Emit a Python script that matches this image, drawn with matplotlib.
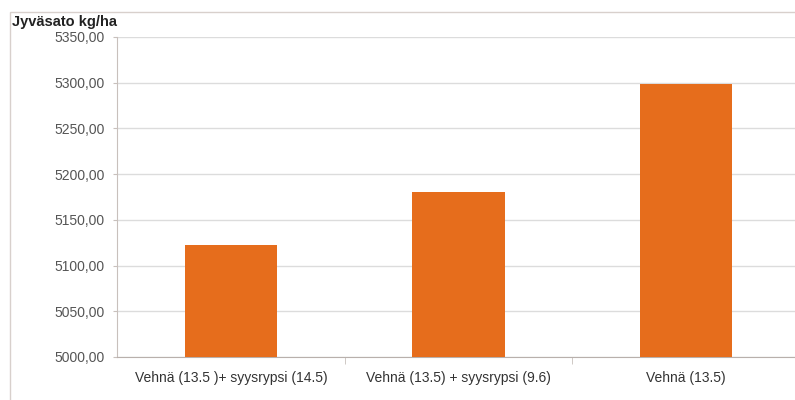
import matplotlib.pyplot as plt
from matplotlib.patches import Rectangle
from matplotlib.ticker import FuncFormatter, FixedLocator

categories = ["Vehnä (13.5 )+ syysrypsi (14.5)",
              "Vehnä (13.5) + syysrypsi (9.6)",
              "Vehnä (13.5)"]
yields = [5122, 5180, 5299]
y_ticks = [5000, 5050, 5100, 5150, 5200, 5250, 5300, 5350]

plt.rcParams['font.family'] = ['Liberation Sans', 'DejaVu Sans']

fig = plt.figure(figsize=(7.95, 4.0), dpi=100)
# outer chart frame
fig.patches.append(Rectangle((10 / 795, -0.02), 1.0, 1 - 12 / 400 + 0.02,
                             transform=fig.transFigure, fill=False,
                             edgecolor="#d8d0cc", linewidth=1.0))

ax = fig.add_axes([117 / 795, 1 - 357 / 400, 683 / 795, 320 / 400])
x = range(len(categories))
ax.bar(x, yields, width=0.405, color="#e66d1c", zorder=3)

ax.set_xlim(-0.5, 2.5)
ax.set_ylim(5000, 5350)
ax.set_yticks(y_ticks)
ax.yaxis.set_major_formatter(FuncFormatter(lambda v, p: f"{v:.2f}".replace(".", ",")))
ax.set_xticks(list(x))
ax.set_xticklabels(categories)
ax.xaxis.set_minor_locator(FixedLocator([0.5, 1.5]))

ax.grid(axis="y", color="#dcdcdc", linewidth=1.0, zorder=0)
for s in ["top", "right"]:
    ax.spines[s].set_visible(False)
ax.spines["left"].set_color("#c8c0bc")
ax.spines["bottom"].set_color("#b8b0ac")

ax.tick_params(axis="y", length=3, color="#c8c0bc", labelsize=10, labelcolor="#555555", pad=6)
ax.tick_params(axis="x", which="major", length=0, labelsize=10, labelcolor="#333333", pad=10)
ax.tick_params(axis="x", which="minor", length=5, color="#c8c0bc")

fig.text(12 / 795, 1 - 22 / 400, "Jyväsato kg/ha", fontsize=10.5, fontweight="bold",
         color="#222222", va="center", ha="left")

fig.savefig("out.png", dpi=100)
